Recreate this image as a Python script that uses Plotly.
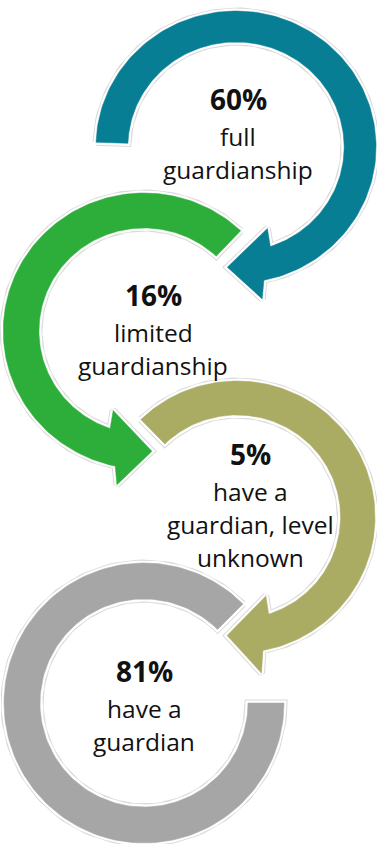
import numpy as np
import plotly.graph_objects as go

# ---- data ----
percents = [60, 16, 5, 81]
label_lines = [
    ["full", "guardianship"],
    ["limited", "guardianship"],
    ["have a", "guardian, level", "unknown"],
    ["have a", "guardian"],
]
colors = ["#087E94", "#2DAE3A", "#AAAC64", "#A6A6A6"]

# ---- geometry (pixel space) ----
centers_x = [236, 144, 237, 144]
centers_y = [147, 331, 517, 703]
r_outer = [136, 138, 136, 140]
r_inner = [105, 103, 102, 104]
x_stretch = [1.03, 1.02, 1.015, 1.0]
start_deg = [182, 313.4, 225.8, 315]
end_deg = [454, 86.3, 454.7, 360]
direction = [1, -1, 1, -1]
has_head = [True, True, True, False]
head_out_ext = [18, 18, 22, 0]
text_x = [238, 153, 250, 144]
text_top = [112, 308, 467, 684]   # baseline of the percent line
line_pitch = 33

W, H = 377, 844


def pt(i, r, deg):
    t = np.radians(deg)
    return centers_x[i] + r * x_stretch[i] * np.cos(t), centers_y[i] + r * np.sin(t)


def arc(i, r, a0, a1, n=160):
    a = np.linspace(a0, a1, n)
    return pt(i, r, a)


def arrow_shape(i):
    ro, ri = r_outer[i], r_inner[i]
    s, d = start_deg[i], direction[i]
    if has_head[i]:
        t = end_deg[i]
        if d < 0 and t > s:
            t -= 360
        if d > 0 and t < s:
            t += 360
        ox, oy = arc(i, ro, s, t - d * 15.5)
        cox, coy = pt(i, ro + head_out_ext[i], t - d * 13.5)
        tx, ty = pt(i, (ro + ri) / 2, t)
        cix, ciy = pt(i, ri - 18, t - d * 24.5)
        ix, iy = arc(i, ri, t - d * 22.5, s)
        xs = np.concatenate([ox, [cox, tx, cix], ix, [ox[0]]])
        ys = np.concatenate([oy, [coy, ty, ciy], iy, [oy[0]]])
    else:
        e = end_deg[i]
        if d < 0 and e > s:
            e -= 360
        ox, oy = arc(i, ro, s, e)
        ix, iy = arc(i, ri, e, s)
        xs = np.concatenate([ox, ix, [ox[0]]])
        ys = np.concatenate([oy, iy, [oy[0]]])
    return xs, ys


fig = go.Figure()
for i in range(4):
    xs, ys = arrow_shape(i)
    fig.add_trace(go.Scatter(x=xs, y=ys, mode="lines", fill="toself",
                             fillcolor="white", line=dict(color="#DADADA", width=7),
                             hoverinfo="skip"))
    fig.add_trace(go.Scatter(x=xs, y=ys, mode="lines", fill="toself",
                             fillcolor="white", line=dict(color="white", width=5),
                             hoverinfo="skip"))
    fig.add_trace(go.Scatter(x=xs, y=ys, mode="lines", fill="toself",
                             fillcolor=colors[i], line=dict(color=colors[i], width=0.5),
                             hoverinfo="skip"))

font_family = "Open Sans, Noto Sans, sans-serif"
for i in range(4):
    base = text_top[i]
    fig.add_annotation(x=text_x[i], y=base + 8, text=f"<b>{percents[i]}%</b>",
                       showarrow=False, xanchor="center", yanchor="bottom",
                       font=dict(family=font_family, size=28, color="#111111"))
    for k, line in enumerate(label_lines[i]):
        fig.add_annotation(x=text_x[i], y=base + line_pitch * (k + 1) + 10, text=line,
                           showarrow=False, xanchor="center", yanchor="bottom",
                           font=dict(family=font_family, size=24.5, color="#111111"))

fig.update_layout(
    width=W, height=H, margin=dict(l=0, r=0, t=0, b=0),
    paper_bgcolor="white", plot_bgcolor="white", showlegend=False,
    xaxis=dict(range=[0, W], visible=False, fixedrange=True),
    yaxis=dict(range=[H, 0], visible=False, fixedrange=True),
)
fig.write_html("out.html", config={"displayModeBar": False})
